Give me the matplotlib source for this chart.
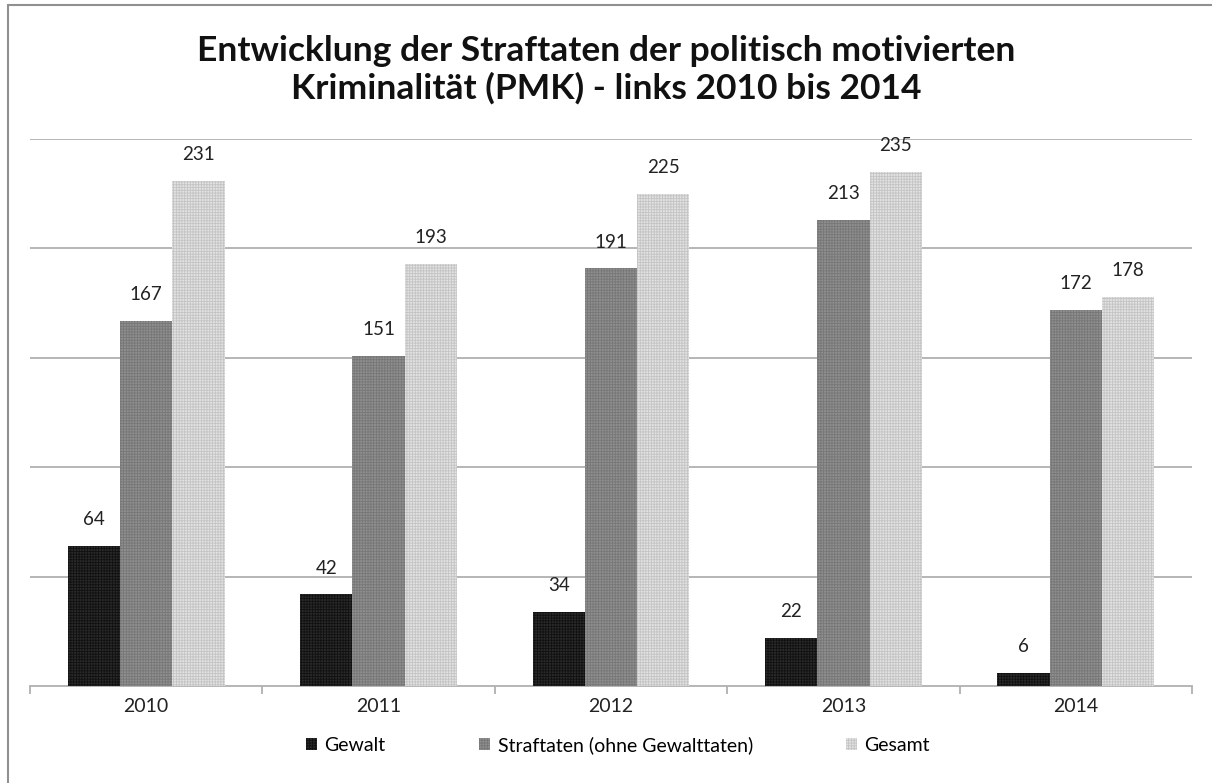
import matplotlib
matplotlib.use("Agg")
import matplotlib.pyplot as plt
import numpy as np
from matplotlib.patches import Rectangle

years = ["2010", "2011", "2012", "2013", "2014"]
gewalt = [64, 42, 34, 22, 6]
straftaten = [167, 151, 191, 213, 172]
gesamt = [231, 193, 225, 235, 178]
series_names = ["Gewalt", "Straftaten (ohne Gewalttaten)", "Gesamt"]
title = "Entwicklung der Straftaten der politisch motivierten\nKriminalität (PMK) - links 2010 bis 2014"

plt.rcParams['font.family'] = ['Lato', 'DejaVu Sans']
plt.rcParams['hatch.linewidth'] = 0.6

fig = plt.figure(figsize=(12.12, 7.83), dpi=100)
ax = fig.add_axes([30/1212, 1-686/783, (1192-30)/1212, (686-139)/783])

x = np.arange(len(years))
w = 0.225
styles = [
    dict(color="#2a2a2a", hatch="++++++", edgecolor="#111111"),
    dict(color="#8f8f8f", hatch="++++++", edgecolor="#777777"),
    dict(color="#e2e2e2", hatch="++++++", edgecolor="#c4c4c4"),
]
data = [gewalt, straftaten, gesamt]
for i, (vals, st, name) in enumerate(zip(data, styles, series_names)):
    pos = x + (i - 1) * w
    ax.bar(pos, vals, width=w, color=st["color"], hatch=st["hatch"],
           edgecolor=st["edgecolor"], linewidth=0, label=name, zorder=3)
    for p, v in zip(pos, vals):
        ax.text(p, v + 8, str(v), ha="center", va="bottom", fontsize=13.5, color="#222222")

ax.set_xlim(-0.5, len(years) - 0.5)
ax.set_ylim(0, 250)
ax.set_yticks([50, 100, 150, 200, 250])
ax.yaxis.grid(True, color="#b0b0b0", linewidth=1.3, zorder=0)
ax.tick_params(axis="y", left=False, labelleft=False)
ax.set_xticks(x)
ax.set_xticklabels(years, fontsize=14, color="#222222")
ax.set_xticks(np.arange(-0.5, len(years)), minor=True)
ax.tick_params(axis="x", which="major", length=0, pad=9)
ax.tick_params(axis="x", which="minor", length=6, color="#b0b0b0", width=1.3)
for s in ["top", "left", "right"]:
    ax.spines[s].set_visible(False)
ax.spines["bottom"].set_color("#b0b0b0")
ax.spines["bottom"].set_linewidth(1.3)

fig.text(0.5, 1 - 70/783, title, ha="center", va="center", fontsize=25.5,
         fontweight="bold", color="#111111", linespacing=1.2)

fig.legend(loc="center", bbox_to_anchor=(0.51, 1 - 745/783), ncol=3,
           frameon=False, fontsize=14, handlelength=0.55, handleheight=0.55,
           columnspacing=4.8, handletextpad=0.4)

border = Rectangle((8/1212, -0.1), 1.2, 1.1 - 5/783, transform=fig.transFigure,
                   fill=False, edgecolor="#909090", linewidth=1.5)
fig.patches.append(border)

fig.savefig("out.png", dpi=100)
